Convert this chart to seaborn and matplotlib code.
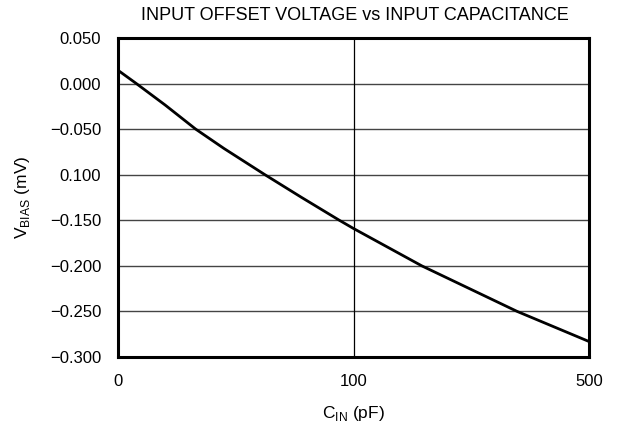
import matplotlib
matplotlib.use("Agg")
import matplotlib.pyplot as plt
import seaborn as sns
import pandas as pd
import numpy as np

# data (C_IN in pF, V_BIAS in mV)
cin_pf = [0, 7.8, 20, 33, 45, 62.4, 78, 94, 100, 216, 378, 500]
vbias_mv = [0.0146, 0.0, -0.0235, -0.050, -0.0712, -0.100, -0.1250,
            -0.150, -0.159, -0.200, -0.250, -0.283]

yticks = [0.05, 0.0, -0.05, -0.1, -0.15, -0.2, -0.25, -0.3]
ytick_labels = ["0.050", "0.000", "\u22120.050", "0.100", "\u22120.150",
                "\u22120.200", "\u22120.250", "\u22120.300"]
xticks = [0, 100, 500]
xtick_labels = ["0", "100", "500"]

sns.set_style("white")
plt.rcParams["font.family"] = ["Liberation Sans", "DejaVu Sans"]
plt.rcParams["mathtext.fontset"] = "custom"
plt.rcParams["mathtext.rm"] = "Liberation Sans"
plt.rcParams["text.color"] = "black"
plt.rcParams["axes.labelcolor"] = "black"


# axis is 0..100 on the first half, 100..500 on the second half
def fwd(x):
    x = np.asarray(x, dtype=float)
    return np.where(x <= 100, x / 100.0, 1 + (x - 100) / 400.0)


def inv(u):
    u = np.asarray(u, dtype=float)
    return np.where(u <= 1, u * 100.0, 100 + (u - 1) * 400.0)


df = pd.DataFrame({"cin": cin_pf, "vbias": vbias_mv})

fig = plt.figure(figsize=(6.18, 4.25), dpi=100)
ax = fig.add_axes([118 / 618, 1 - 357 / 425, 471 / 618, 319 / 425])
ax.set_xscale("function", functions=(fwd, inv))

for y in yticks[1:-1]:
    ax.axhline(y, color="#444444", lw=1.0, zorder=1)
ax.axvline(100, color="black", lw=0.9, zorder=1)

sns.lineplot(data=df, x="cin", y="vbias", ax=ax, color="black", lw=2.0, zorder=3)

ax.set_xlim(0, 500)
ax.set_ylim(-0.3, 0.05)
ax.set_xticks(xticks)
ax.set_xticklabels(xtick_labels)
ax.set_yticks(yticks)
ax.set_yticklabels(ytick_labels)
ax.tick_params(axis="both", length=0, labelsize=12, pad=12, colors="black")
ax.xaxis.set_minor_locator(matplotlib.ticker.NullLocator())

for s in ax.spines.values():
    s.set_linewidth(2.2)
    s.set_color("black")

ax.set_xlabel(r"C$_{\mathrm{IN}}$ (pF)", fontsize=12.5, labelpad=11)
ax.set_ylabel(r"V$_{\mathrm{BIAS}}$ (mV)", fontsize=12.5, labelpad=13)
fig.text(355 / 618, 1 - 15 / 425, "INPUT OFFSET VOLTAGE vs INPUT CAPACITANCE",
         fontsize=13, ha="center", va="center", color="black")

fig.savefig("out.png", dpi=100)
